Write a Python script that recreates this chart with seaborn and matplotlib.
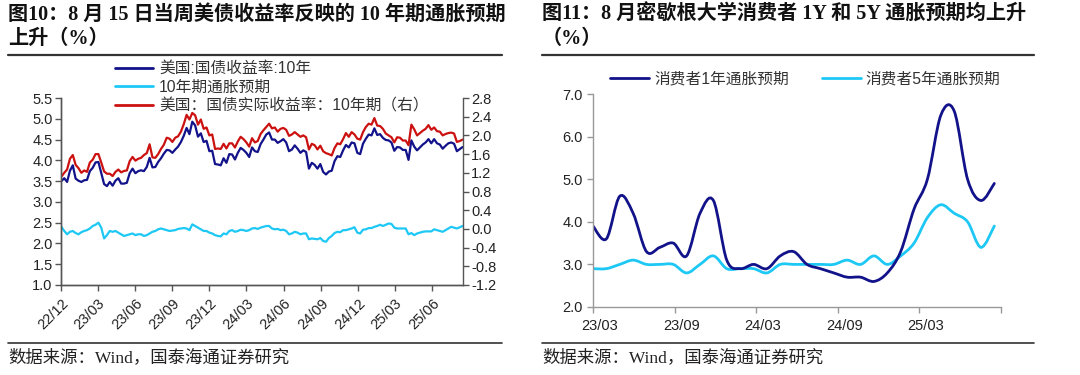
import numpy as np
import pandas as pd
import seaborn as sns
import matplotlib.pyplot as plt
import matplotlib.dates as mdates
from matplotlib.path import Path
from matplotlib.patches import PathPatch
from matplotlib.lines import Line2D

# ---- left chart: weekly (Friday) values, 2022-12-02 .. 2025-08-15 ----
ust10y = [3.50, 3.57, 3.48, 3.75, 3.88,
          3.56, 3.51, 3.48, 3.52, 3.53, 3.74, 3.82, 3.95,
          3.96, 3.70, 3.43, 3.38, 3.48, 3.39, 3.51, 3.57, 3.44,
          3.44, 3.46, 3.69, 3.80, 3.69, 3.74, 3.76, 3.74, 3.84,
          4.06, 3.83, 3.84, 3.96, 4.05, 4.16, 4.25, 4.24,
          4.18, 4.26, 4.33, 4.44, 4.59, 4.78, 4.63, 4.93, 4.84,
          4.57, 4.65, 4.44, 4.47, 4.22, 4.23, 3.91, 3.90, 3.88,
          4.05, 3.94, 4.15, 4.14, 4.02, 4.18, 4.30, 4.25,
          4.18, 4.08, 4.31, 4.22, 4.20, 4.39, 4.50, 4.62, 4.67,
          4.50, 4.50, 4.42, 4.46, 4.51, 4.43, 4.22, 4.26, 4.36,
          4.28, 4.18, 4.24, 4.20, 3.80, 3.94, 3.89, 3.80, 3.91,
          3.72, 3.66, 3.73, 3.75, 3.98, 4.10, 4.08, 4.24,
          4.37, 4.31, 4.43, 4.41, 4.18, 4.15, 4.40, 4.52, 4.62,
          4.60, 4.77, 4.61, 4.63, 4.54, 4.49, 4.48, 4.43, 4.23,
          4.32, 4.31, 4.25, 4.25, 4.01, 4.48, 4.33, 4.24,
          4.31, 4.38, 4.43, 4.51, 4.41, 4.51, 4.41, 4.38, 4.28,
          4.35, 4.41, 4.43, 4.40, 4.22, 4.27, 4.32]

real10y = [1.12, 1.20, 1.27, 1.50, 1.58,
           1.37, 1.30, 1.20, 1.25, 1.22, 1.42, 1.48, 1.60,
           1.60, 1.42, 1.23, 1.18, 1.18, 1.13, 1.22, 1.27, 1.21,
           1.24, 1.25, 1.45, 1.54, 1.46, 1.50, 1.52, 1.58, 1.62,
           1.81, 1.53, 1.52, 1.60, 1.71, 1.80, 1.95, 1.93,
           1.86, 1.95, 1.98, 2.08, 2.24, 2.44, 2.34, 2.48, 2.43,
           2.23, 2.34, 2.14, 2.17, 2.00, 2.02, 1.71, 1.72, 1.71,
           1.82, 1.72, 1.83, 1.83, 1.74, 1.87, 1.97, 1.92,
           1.85, 1.76, 1.94, 1.85, 1.88, 2.03, 2.11, 2.18, 2.25,
           2.15, 2.17, 2.08, 2.14, 2.16, 2.12, 1.99, 2.02, 2.07,
           2.02, 1.97, 2.00, 1.96, 1.70, 1.82, 1.79, 1.70, 1.78,
           1.66, 1.62, 1.60, 1.57, 1.73, 1.83, 1.81, 1.92,
           2.05, 1.97, 2.07, 2.02, 1.93, 1.91, 2.07, 2.18, 2.25,
           2.23, 2.37, 2.21, 2.20, 2.14, 2.04, 2.00, 1.96, 1.85,
           1.96, 1.95, 1.89, 1.89, 1.79, 2.23, 2.13, 2.00,
           2.05, 2.10, 2.14, 2.22, 2.12, 2.17, 2.09, 2.08, 2.00,
           2.03, 2.05, 2.06, 2.04, 1.86, 1.88, 1.91]

bei10y = [2.40, 2.30, 2.22, 2.28, 2.30,
          2.25, 2.22, 2.27, 2.30, 2.32, 2.36, 2.42, 2.45,
          2.50, 2.38, 2.12, 2.20, 2.30, 2.28, 2.30, 2.26, 2.22,
          2.18, 2.20, 2.22, 2.24, 2.20, 2.22, 2.22, 2.18, 2.20,
          2.24, 2.28, 2.30, 2.34, 2.36, 2.34, 2.32, 2.30,
          2.31, 2.32, 2.35, 2.36, 2.37, 2.36, 2.32, 2.46, 2.42,
          2.38, 2.34, 2.30, 2.30, 2.26, 2.24, 2.20, 2.18, 2.17,
          2.24, 2.22, 2.30, 2.32, 2.28, 2.30, 2.33, 2.32,
          2.30, 2.32, 2.36, 2.37, 2.35, 2.38, 2.40, 2.42, 2.42,
          2.36, 2.34, 2.35, 2.32, 2.33, 2.30, 2.22, 2.24, 2.28,
          2.26, 2.22, 2.24, 2.24, 2.10, 2.12, 2.11, 2.10, 2.13,
          2.06, 2.04, 2.13, 2.18, 2.25, 2.28, 2.27, 2.32,
          2.32, 2.34, 2.36, 2.39, 2.26, 2.24, 2.33, 2.34, 2.37,
          2.37, 2.40, 2.42, 2.45, 2.42, 2.45, 2.48, 2.47, 2.38,
          2.36, 2.36, 2.36, 2.36, 2.22, 2.25, 2.20, 2.24,
          2.26, 2.28, 2.29, 2.29, 2.29, 2.34, 2.32, 2.30, 2.28,
          2.32, 2.36, 2.40, 2.38, 2.36, 2.39, 2.42]

left_labels = ['美国:国债收益率:10年', '10年期通胀预期', '美国：国债实际收益率：10年期（右）']

# ---- right chart: Michigan survey, monthly 2023-02 .. 2025-08 ----
mich_1y = [3.9, 3.6, 4.6, 4.2, 3.3, 3.4, 3.5, 3.2, 4.2, 4.5, 3.1,
           2.9, 3.0, 2.9, 3.2, 3.3, 3.0, 2.9, 2.8, 2.7, 2.7, 2.6, 2.8,
           3.3, 4.3, 5.0, 6.5, 6.6, 5.0, 4.5, 4.9]
mich_5y = [2.9, 2.9, 3.0, 3.1, 3.0, 3.0, 3.0, 2.8, 3.0, 3.2, 2.9,
           2.9, 2.9, 2.8, 3.0, 3.0, 3.0, 3.0, 3.0, 3.1, 3.0, 3.2, 3.0,
           3.2, 3.5, 4.1, 4.4, 4.2, 4.0, 3.4, 3.9]
right_ticklabels = ['23/03', '23/09', '24/03', '24/09', '25/03']
right_labels = ['消费者1年通胀预期', '消费者5年通胀预期']

NAVY = '#12128a'
CYAN = '#1ec8f5'
RED = '#cc1111'
TXT = '#222222'

sns.set_style('ticks')
plt.rcParams['font.family'] = ['Liberation Sans', 'Noto Sans CJK SC', 'DejaVu Sans']
plt.rcParams['axes.unicode_minus'] = False
SERIF = ['Liberation Serif', 'Noto Sans CJK SC', 'DejaVu Sans']

W, H = 1080, 375
fig = plt.figure(figsize=(W / 100, H / 100), dpi=100)


def box(x0, y0, x1, y1):
    return [x0 / W, 1 - y1 / H, (x1 - x0) / W, (y1 - y0) / H]


def fmt1(v, pos=None):
    return f'{round(v, 1) + 0.0:.1f}'


# ---------------- left panel ----------------
weeks = pd.date_range('2022-12-02', '2025-08-15', freq='W-FRI')
ax1 = fig.add_axes(box(61, 98, 463, 285))
ax1r = ax1.twinx()
sns.lineplot(x=weeks, y=ust10y, ax=ax1, color=NAVY, lw=1.6)
sns.lineplot(x=weeks, y=bei10y, ax=ax1, color=CYAN, lw=1.6)
sns.lineplot(x=weeks, y=real10y, ax=ax1r, color=RED, lw=1.6)

ax1.set_xlim(pd.Timestamp('2022-12-01'), pd.Timestamp('2025-08-16'))
ax1.set_ylim(1.0, 5.5)
ax1.set_yticks(np.linspace(1.0, 5.5, 10))
ax1.yaxis.set_major_formatter(fmt1)
ax1r.set_ylim(-1.2, 2.8)
ax1r.set_yticks(np.linspace(-1.2, 2.8, 11))
ax1r.yaxis.set_major_formatter(fmt1)
ax1.xaxis.set_major_locator(mdates.MonthLocator(bymonth=[3, 6, 9, 12]))
ax1.xaxis.set_major_formatter(mdates.DateFormatter('%y/%m'))
for lab in ax1.get_xticklabels():
    lab.set_rotation(45)
    lab.set_ha('right')
    lab.set_va('top')
    lab.set_rotation_mode('anchor')
for a in (ax1, ax1r):
    a.set_xlabel('')
    a.set_ylabel('')
    a.spines['top'].set_visible(False)
    for s in a.spines.values():
        s.set_color('#555555')
        s.set_linewidth(1.0)
    a.tick_params(direction='out', length=4, width=1.0, color='#555555',
                  labelsize=10.5, labelcolor=TXT, pad=2)
ax1.tick_params(axis='x', pad=4)
ax1.spines['right'].set_visible(False)

hl = [Line2D([], [], color=c, lw=2) for c in (NAVY, CYAN, RED)]
fig.legend(hl, left_labels, loc='upper left', bbox_to_anchor=(115 / W, 1 - 61 / H),
           frameon=False, fontsize=11.3, handlelength=2.4, handletextpad=0.4,
           labelspacing=0.25, borderpad=0, borderaxespad=0, labelcolor='#333333')

# ---------------- right panel ----------------
ax2 = fig.add_axes(box(593, 94, 1001, 307))
n = len(mich_1y)
months = np.arange(n, dtype=float)


def smooth_path(x, y):
    pts = np.column_stack([x, y])
    ext = np.vstack([pts[0], pts, pts[-1]])
    verts = [pts[0]]
    codes = [Path.MOVETO]
    for i in range(len(pts) - 1):
        p0, p1, p2, p3 = ext[i], ext[i + 1], ext[i + 2], ext[i + 3]
        verts += [p1 + (p2 - p0) / 6, p2 - (p3 - p1) / 6, p2]
        codes += [Path.CURVE4] * 3
    return Path(verts, codes)


ax2.add_patch(PathPatch(smooth_path(months, mich_5y), fc='none', ec=CYAN, lw=2, capstyle='round'))
ax2.add_patch(PathPatch(smooth_path(months, mich_1y), fc='none', ec=NAVY, lw=2, capstyle='round'))
ax2.set_xlim(0, n - 0.5)
ax2.set_ylim(2.0, 7.0)
ax2.set_yticks(np.linspace(2.0, 7.0, 6))
ax2.yaxis.set_major_formatter(fmt1)
bounds = np.linspace(0, n - 0.5, 6)
ax2.set_xticks(bounds, minor=True)
ax2.set_xticks(bounds[:-1] + 0.5)
ax2.set_xticklabels(right_ticklabels)
ax2.tick_params(axis='x', which='major', length=0, pad=9)
ax2.tick_params(axis='x', which='minor', length=4, width=1.0, color='#999999', direction='out')
ax2.tick_params(axis='y', length=4, width=1.0, color='#999999', direction='out')
ax2.tick_params(labelsize=10.5, labelcolor=TXT)
for s in ('top', 'right'):
    ax2.spines[s].set_visible(False)
for s in ('left', 'bottom'):
    ax2.spines[s].set_color('#999999')
    ax2.spines[s].set_linewidth(1.0)

hr = [Line2D([], [], color=c, lw=2) for c in (NAVY, CYAN)]
fig.legend(hr, right_labels, loc='upper left', bbox_to_anchor=(610 / W, 1 - 71 / H),
           ncol=2, frameon=False, fontsize=11.3, handlelength=2.5, handletextpad=0.3,
           columnspacing=2.1, borderpad=0, borderaxespad=0, labelcolor='#333333')

# ---------------- titles, rules, sources ----------------
fig.text(8 / W, 1 - 15 / H, '图10：8 月 15 日当周美债收益率反映的 10 年期通胀预期',
         family=SERIF, weight='bold', fontsize=14.5, va='center', color='#111111')
fig.text(8 / W, 1 - 39 / H, '上升（%）', family=SERIF, weight='bold', fontsize=14.5,
         va='center', color='#111111')
fig.text(542 / W, 1 - 15 / H, '图11：8 月密歇根大学消费者 1Y 和 5Y 通胀预期均上升',
         family=SERIF, weight='bold', fontsize=14.5, va='center', color='#111111')
fig.text(542 / W, 1 - 39 / H, '（%）', family=SERIF, weight='bold', fontsize=14.5,
         va='center', color='#111111')

for x0, x1 in ((8, 502), (542, 1034)):
    fig.add_artist(Line2D([x0 / W, x1 / W], [1 - 55 / H, 1 - 55 / H], color='#333333', lw=1.6))
    fig.add_artist(Line2D([x0 / W, x1 / W], [1 - 343 / H, 1 - 343 / H], color='#333333', lw=1.2))
    fig.text(x0 / W, 1 - 358 / H, '数据来源：Wind，国泰海通证券研究', family=SERIF,
             fontsize=12.5, va='center', color='#222222')

fig.savefig('out.png', dpi=100)
